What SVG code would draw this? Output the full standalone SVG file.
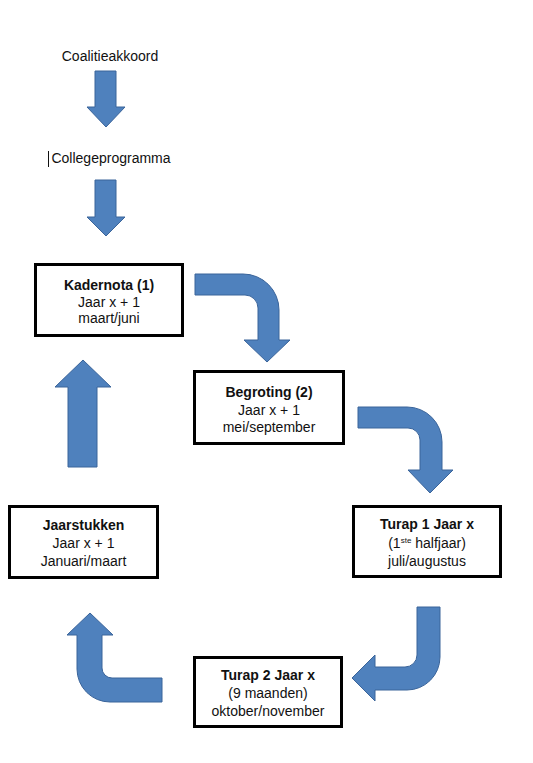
<svg xmlns="http://www.w3.org/2000/svg" width="533" height="763" viewBox="0 0 533 763">
<style>
  text { font-family: "Liberation Sans", Arial, sans-serif; font-size: 14px; fill: #111; text-anchor: middle; }
  .b { font-weight: bold; }
  .box { fill: #fff; stroke: #000; stroke-width: 3; }
  .arrow { fill: #4F81BD; stroke: #3A649A; stroke-width: 1; }
</style>
<rect width="533" height="763" fill="#fff"/>
<g id="connectors">
  <path class="arrow" d="M95,71 H116 V107 H125 L106,127 L87,107 H95 Z"/>
  <path class="arrow" d="M95,180 H116 V217 H125 L106,236 L87,217 H95 Z"/>
  <path class="arrow" d="M195,274 H243 A36,36 0 0 1 279,310 V340 H290 L267,362 L244,340 H258 V308 A13,13 0 0 0 245,295 H195 Z"/>
  <path class="arrow" d="M358,407 H407 A35,35 0 0 1 442,442 V470 H453 L430,493 L408,470 H420 V440 A12,12 0 0 0 408,428 H358 Z"/>
  <path class="arrow" d="M417,607 H440 V657 A33,33 0 0 1 407,690 H375 V701 L352,678 L375,655 V667 H405 A12,12 0 0 0 417,655 Z"/>
  <path class="arrow" d="M162,678 V702 H110 A33,33 0 0 1 77,669 V635 H67 L90,613 L113,635 H102 V668 A10,10 0 0 0 112,678 Z"/>
  <path class="arrow" d="M68,467 V387 H55 L83,360 L111,387 H97 V467 Z"/>
</g>
<g id="coalitieakkoord">
  <text x="110" y="61">Coalitieakkoord</text>
</g>
<g id="collegeprogramma">
  <line x1="48.5" y1="151" x2="48.5" y2="167" stroke="#111" stroke-width="1"/>
  <text x="111" y="163">Collegeprogramma</text>
</g>
<g id="kadernota">
  <rect class="box" x="35.5" y="264.5" width="147" height="71"/>
  <text class="b" x="109" y="290">Kadernota (1)</text>
  <text x="109" y="307">Jaar x + 1</text>
  <text x="109" y="323">maart/juni</text>
</g>
<g id="begroting">
  <rect class="box" x="194.5" y="371.5" width="149" height="72"/>
  <text class="b" x="269" y="397">Begroting (2)</text>
  <text x="269" y="415">Jaar x + 1</text>
  <text x="269" y="432">mei/september</text>
</g>
<g id="turap1">
  <rect class="box" x="353.5" y="506.5" width="147" height="70"/>
  <text class="b" x="427" y="529">Turap 1 Jaar x</text>
  <text x="427" y="548">(1<tspan font-size="8" dy="-5">ste</tspan><tspan dy="5"> halfjaar)</tspan></text>
  <text x="427" y="566">juli/augustus</text>
</g>
<g id="jaarstukken">
  <rect class="box" x="9.5" y="506.5" width="148" height="71"/>
  <text class="b" x="83.5" y="530">Jaarstukken</text>
  <text x="83.5" y="548">Jaar x + 1</text>
  <text x="83.5" y="566">Januari/maart</text>
</g>
<g id="turap2">
  <rect class="box" x="194.5" y="657.5" width="147" height="69"/>
  <text class="b" x="268" y="680">Turap 2 Jaar x</text>
  <text x="268" y="698">(9 maanden)</text>
  <text x="268" y="716">oktober/november</text>
</g>
</svg>
